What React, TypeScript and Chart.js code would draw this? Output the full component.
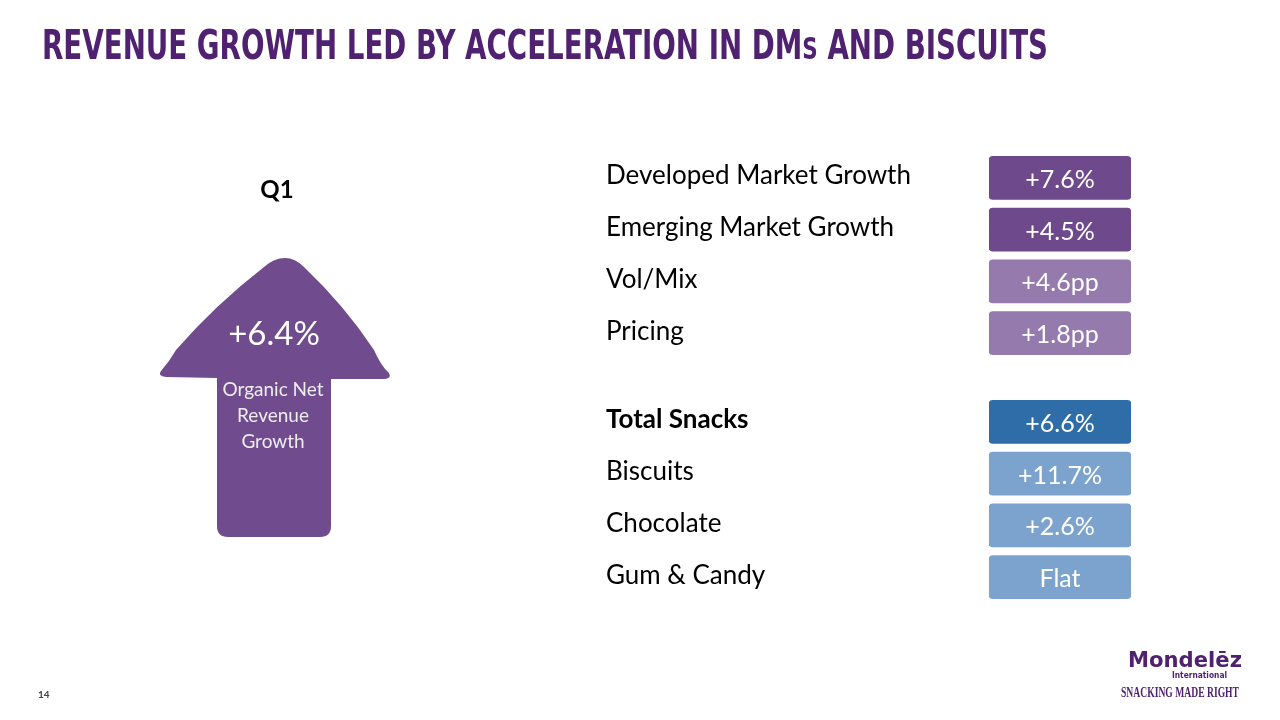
import React, { useEffect, useRef } from "react";
import { Chart, registerables } from "chart.js";

Chart.register(...registerables);

// ---------- data ----------
const slideTitle = "REVENUE GROWTH LED BY ACCELERATION IN DMs AND BISCUITS";
const periodLabel = "Q1";
const headlineValue = 6.4;
const headlineText = "+6.4%";
const headlineCaption = ["Organic Net", "Revenue", "Growth"];

const marketLabels = ["Developed Market Growth", "Emerging Market Growth", "Vol/Mix", "Pricing"];
const marketValues = [7.6, 4.5, 4.6, 1.8];
const marketBadges = ["+7.6%", "+4.5%", "+4.6pp", "+1.8pp"];

const categoryLabels = ["Total Snacks", "Biscuits", "Chocolate", "Gum & Candy"];
const categoryValues = [6.6, 11.7, 2.6, 0];
const categoryBadges = ["+6.6%", "+11.7%", "+2.6%", "Flat"];

const badgeSpan: [number, number] = [0, 1];
const pageNumber = "14";

// ---------- styles ----------
const W = 1280;
const H = 720;
const PURPLE_TITLE = "#4F2170";
const ARROW_COLOR = "#704C8E";
const marketColors = ["#6E4A8D", "#6E4A8D", "#947AAD", "#947AAD"];
const categoryColors = ["#2F6DA8", "#7CA3CD", "#7CA3CD", "#7CA3CD"];
const TEXT_FONT = "Lato, 'Open Sans', sans-serif";

function fitText(ctx: CanvasRenderingContext2D, text: string, x: number, y: number, width: number, font: string, color: string) {
  ctx.save();
  ctx.font = font;
  const m = ctx.measureText(text).width;
  ctx.translate(x, y);
  ctx.scale(width / m, 1);
  ctx.fillStyle = color;
  ctx.textAlign = "left";
  ctx.textBaseline = "alphabetic";
  ctx.fillText(text, 0, 0);
  ctx.restore();
}

const badgeTextPlugin = (texts: string[]) => ({
  id: "badgeText",
  afterDatasetsDraw(chart: any) {
    const ctx = chart.ctx as CanvasRenderingContext2D;
    const meta = chart.getDatasetMeta(0);
    ctx.save();
    ctx.fillStyle = "#FFFFFF";
    ctx.font = `25px ${TEXT_FONT}`;
    ctx.textAlign = "center";
    ctx.textBaseline = "middle";
    meta.data.forEach((bar: any, i: number) => {
      const cx = (bar.x + bar.base) / 2;
      ctx.fillText(texts[i], cx, bar.y + 2);
    });
    ctx.restore();
  },
});

const slidePlugin = {
  id: "slideDecor",
  beforeDraw(chart: any) {
    const ctx = chart.ctx as CanvasRenderingContext2D;
    ctx.save();
    // Title with small-cap "s"
    const big = `bold 40px 'DejaVu Sans Condensed', 'DejaVu Sans', sans-serif`;
    const small = `bold 31px 'DejaVu Sans Condensed', 'DejaVu Sans', sans-serif`;
    const idx = slideTitle.indexOf("DMs");
    const parts: [string, string][] = [
      [slideTitle.slice(0, idx + 2), big],
      ["S", small],
      [slideTitle.slice(idx + 3), big],
    ];
    let total = 0;
    parts.forEach(([t, f]) => { ctx.font = f; total += ctx.measureText(t).width; });
    const sx = (1048 - 42) / total;
    ctx.translate(42, 59);
    ctx.scale(sx, 1);
    ctx.fillStyle = PURPLE_TITLE;
    ctx.textBaseline = "alphabetic";
    let cx = 0;
    parts.forEach(([t, f]) => { ctx.font = f; ctx.fillText(t, cx, 0); cx += ctx.measureText(t).width; });
    ctx.restore();

    // Q1 label
    ctx.save();
    ctx.fillStyle = "#000";
    ctx.font = `bold 24px ${TEXT_FONT}`;
    ctx.textAlign = "center";
    ctx.textBaseline = "alphabetic";
    ctx.fillText(periodLabel, 277, 198);
    ctx.restore();

    // Arrow
    ctx.save();
    ctx.beginPath();
    ctx.moveTo(285, 258);
    ctx.quadraticCurveTo(295, 258, 304, 267);
    ctx.quadraticCurveTo(345, 306, 374, 350);
    ctx.quadraticCurveTo(381, 366, 389, 373);
    ctx.quadraticCurveTo(392, 379, 383, 379);
    ctx.lineTo(331, 379);
    ctx.lineTo(331, 526);
    ctx.quadraticCurveTo(331, 537, 320, 537);
    ctx.lineTo(228, 537);
    ctx.quadraticCurveTo(217, 537, 217, 526);
    ctx.lineTo(217, 378);
    ctx.lineTo(166, 377);
    ctx.quadraticCurveTo(157, 376, 161, 371);
    ctx.quadraticCurveTo(169, 362, 176, 350);
    ctx.quadraticCurveTo(215, 305, 264, 267);
    ctx.quadraticCurveTo(274, 258, 285, 258);
    ctx.closePath();
    ctx.fillStyle = ARROW_COLOR;
    ctx.fill();
    ctx.fillStyle = "#FFFFFF";
    ctx.textAlign = "center";
    ctx.textBaseline = "middle";
    ctx.font = `33px ${TEXT_FONT}`;
    ctx.fillText(headlineValue > 0 ? headlineText : String(headlineValue), 274, 334);
    ctx.fillStyle = "#EDEDED";
    ctx.font = `19px ${TEXT_FONT}`;
    headlineCaption.forEach((line, i) => ctx.fillText(line, 273, 390 + i * 26));
    ctx.restore();

    // Page number
    ctx.save();
    ctx.fillStyle = "#444";
    ctx.font = `bold 10px ${TEXT_FONT}`;
    ctx.textBaseline = "alphabetic";
    ctx.fillText(pageNumber, 38, 698);
    ctx.restore();

    // Logo
    fitText(ctx, "Mondelēz", 1128, 667, 114, `bold 22px 'DejaVu Sans', sans-serif`, "#4F2170");
    fitText(ctx, "International", 1172, 678, 55, `bold 9px 'DejaVu Sans', sans-serif`, "#4F2170");
    fitText(ctx, "SNACKING MADE RIGHT", 1121, 697, 118, `bold 14px 'Liberation Serif', serif`, "#4F2170");
  },
};

function makeConfig(labels: string[], values: number[], badges: string[], colors: string[], top: number, bottom: number, boldFirst: boolean, decorate: boolean) {
  const plugins: any[] = [badgeTextPlugin(badges)];
  if (decorate) plugins.unshift(slidePlugin);
  return {
    type: "bar" as const,
    data: {
      labels,
      datasets: [
        {
          label: "growth",
          data: values.map(() => badgeSpan),
          backgroundColor: colors,
          borderRadius: 4,
          borderSkipped: false,
          barThickness: 43,
        },
      ],
    },
    options: {
      indexAxis: "y" as const,
      animation: false as const,
      responsive: false,
      maintainAspectRatio: false,
      layout: { padding: { left: 606, right: 149, top, bottom } },
      plugins: { legend: { display: false }, tooltip: { enabled: false }, title: { display: false } },
      scales: {
        x: { display: false, min: 0, max: 1 },
        y: {
          grid: { display: false, drawTicks: false },
          border: { display: false },
          ticks: {
            crossAlign: "far" as const,
            color: "#000000",
            padding: 0,
            labelOffset: -2,
            font: (c: any) => ({ family: TEXT_FONT, size: 26, weight: boldFirst && c.index === 0 ? "bold" : "normal" }),
          },
          afterFit: (s: any) => { s.width = 989 - 606; },
        },
      },
    },
    plugins,
  };
}

function SlideChart(props: { config: any }) {
  const ref = useRef<HTMLCanvasElement>(null);
  useEffect(() => {
    if (!ref.current) return;
    const chart = new Chart(ref.current, props.config);
    return () => chart.destroy();
  }, []);
  return (
    <canvas
      ref={ref}
      width={W}
      height={H}
      style={{ position: "absolute", left: 0, top: 0, width: W, height: H }}
    />
  );
}

export default function App() {
  const topCfg = makeConfig(marketLabels, marketValues, marketBadges, marketColors, 152, H - 359, false, true);
  const bottomCfg = makeConfig(categoryLabels, categoryValues, categoryBadges, categoryColors, 396, H - 603, true, false);
  return (
    <div style={{ position: "fixed", left: 0, top: 0, width: W, height: H, background: "#FFFFFF", overflow: "hidden" }}>
      <SlideChart config={topCfg} />
      <SlideChart config={bottomCfg} />
    </div>
  );
}
